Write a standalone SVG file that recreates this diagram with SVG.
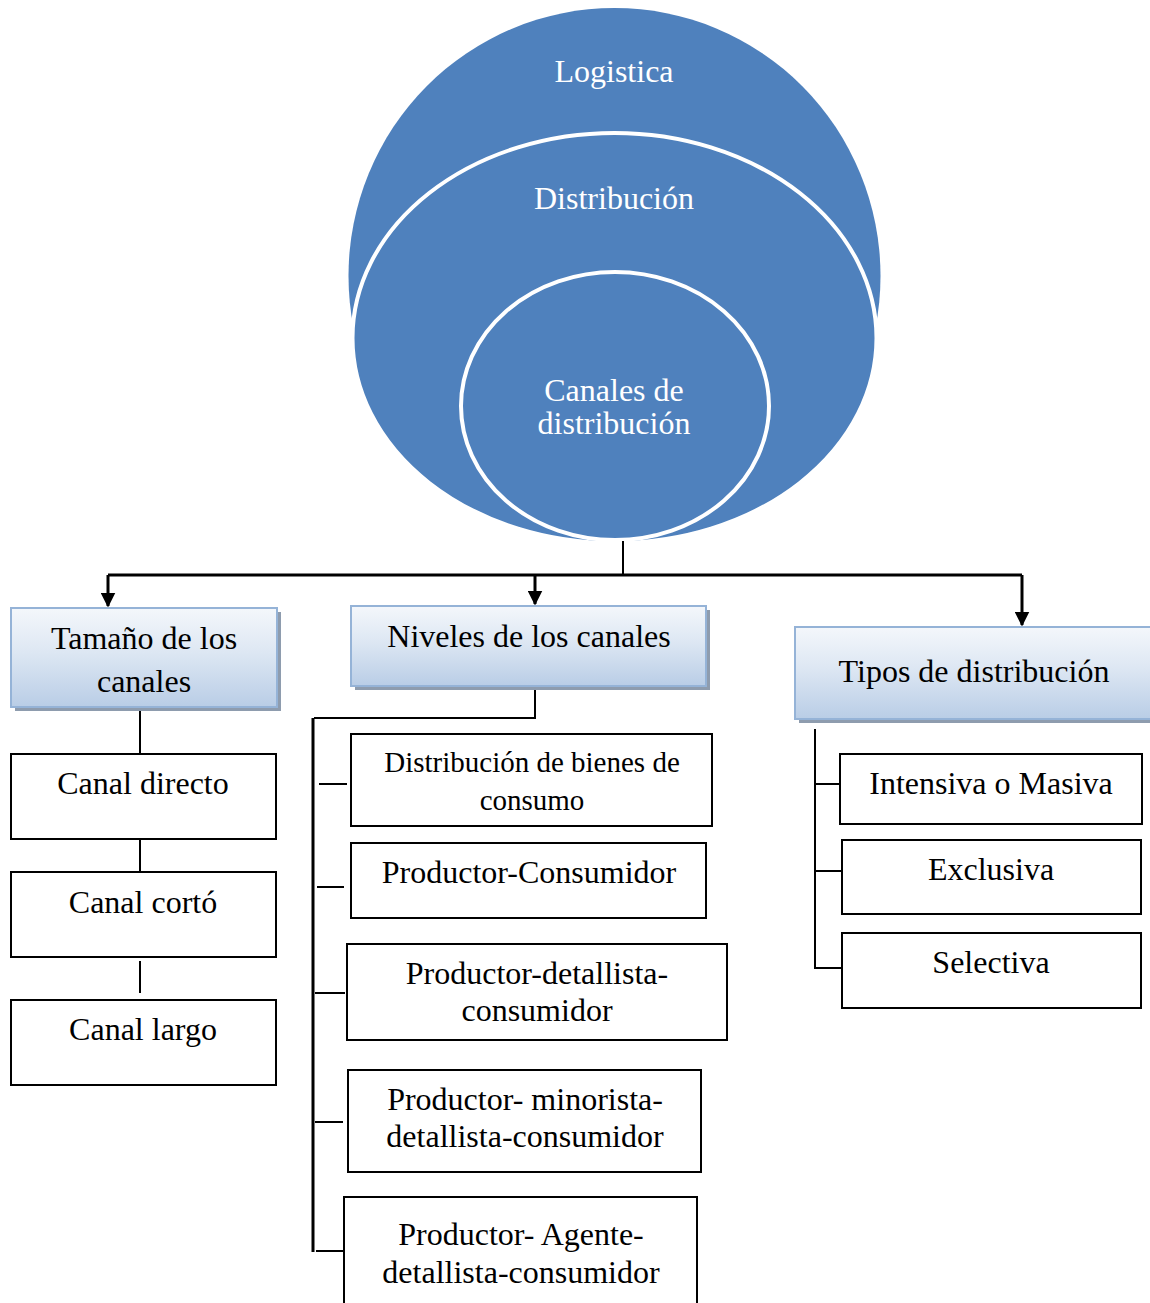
<svg xmlns="http://www.w3.org/2000/svg" width="1150" height="1303" viewBox="0 0 1150 1303">
  <defs>
    <linearGradient id="hdrFill" x1="0" y1="0" x2="0" y2="1">
      <stop offset="0" stop-color="#f4f7fb"/>
      <stop offset="0.45" stop-color="#dde7f3"/>
      <stop offset="1" stop-color="#b9cde6"/>
    </linearGradient>
    <marker id="arrow" viewBox="0 0 10 10" refX="9" refY="5" markerWidth="5" markerHeight="5" orient="auto" markerUnits="strokeWidth">
      <path d="M0,0 L10,5 L0,10 Z" fill="#000"/>
    </marker>
  </defs>
  <style>
    text { font-family: "Liberation Serif", "Times New Roman", serif; text-anchor: middle; }
    .ring-label { fill: #ffffff; font-size: 32px; }
    .label { fill: #000000; font-size: 32px; }
    .label-sm { fill: #000000; font-size: 29px; }
    .hdr { fill: url(#hdrFill); stroke: #95b3d7; stroke-width: 2; }
    .hdr-shadow { fill: #8e9cae; }
    .box { fill: #ffffff; stroke: #000000; stroke-width: 2; }
    .wire { fill: none; stroke: #000000; stroke-width: 2; }
    .trunk { fill: none; stroke: #000000; stroke-width: 3; }
  </style>

  <rect width="1150" height="1303" fill="#ffffff"/>

  <!-- nested target -->
  <g id="logistica">
    <ellipse cx="614.5" cy="276" rx="266" ry="268" fill="#4f81bd"/>
    <text class="ring-label" x="614" y="82">Logistica</text>
  </g>
  <g id="distribucion">
    <ellipse cx="614.5" cy="338" rx="262" ry="205" fill="#4f81bd" stroke="#ffffff" stroke-width="4"/>
    <text class="ring-label" x="614" y="209">Distribución</text>
  </g>
  <g id="canales-distribucion">
    <ellipse cx="615" cy="406" rx="154" ry="134" fill="#4f81bd" stroke="#ffffff" stroke-width="4"/>
    <text class="ring-label" x="614" y="401">Canales de</text>
    <text class="ring-label" x="614" y="434">distribución</text>
  </g>

  <!-- connectors -->
  <g id="connectors">
    <path class="wire" d="M623,541 V575"/>
    <path class="trunk" d="M108,575 H1022"/>
    <path class="trunk" d="M108,575 V606" marker-end="url(#arrow)"/>
    <path class="trunk" d="M535,575 V604" marker-end="url(#arrow)"/>
    <path class="trunk" d="M1022,575 V625" marker-end="url(#arrow)"/>

    <!-- left column -->
    <path class="wire" d="M140,707 V754"/>
    <path class="wire" d="M140,839 V872"/>
    <path class="wire" d="M140,961 V993"/>

    <!-- middle column -->
    <path class="wire" d="M535,686 V718 H314"/>
    <path class="trunk" d="M313,718 V1252"/>
    <path class="wire" d="M319,784 H347"/>
    <path class="wire" d="M317,887 H344"/>
    <path class="wire" d="M315,993 H345"/>
    <path class="wire" d="M315,1122 H343"/>
    <path class="wire" d="M316,1251 H345"/>

    <!-- right column -->
    <path class="wire" d="M815,729 V968 H842"/>
    <path class="wire" d="M815,784 H842"/>
    <path class="wire" d="M815,871 H842"/>
  </g>

  <!-- header boxes -->
  <g id="tamano">
    <rect class="hdr-shadow" x="15" y="612" width="266" height="99"/>
    <rect class="hdr" x="11" y="608" width="266" height="99"/>
    <text class="label" x="144" y="649">Tamaño de los</text>
    <text class="label" x="144" y="692">canales</text>
  </g>
  <g id="niveles">
    <rect class="hdr-shadow" x="355" y="610" width="355" height="80"/>
    <rect class="hdr" x="351" y="606" width="355" height="80"/>
    <text class="label" x="529" y="647">Niveles de los canales</text>
  </g>
  <g id="tipos">
    <rect class="hdr-shadow" x="799" y="631" width="355" height="92"/>
    <rect class="hdr" x="795" y="627" width="357" height="92"/>
    <text class="label" x="974" y="682">Tipos de distribución</text>
  </g>

  <!-- left column boxes -->
  <g id="canal-directo">
    <rect class="box" x="11" y="754" width="265" height="85"/>
    <text class="label" x="143" y="794">Canal directo</text>
  </g>
  <g id="canal-corto">
    <rect class="box" x="11" y="872" width="265" height="85"/>
    <text class="label" x="143" y="913">Canal cortó</text>
  </g>
  <g id="canal-largo">
    <rect class="box" x="11" y="1000" width="265" height="85"/>
    <text class="label" x="143" y="1040">Canal largo</text>
  </g>

  <!-- middle column boxes -->
  <g id="bienes-consumo">
    <rect class="box" x="351" y="734" width="361" height="92"/>
    <text class="label-sm" x="532" y="772">Distribución de bienes de</text>
    <text class="label-sm" x="532" y="810">consumo</text>
  </g>
  <g id="productor-consumidor">
    <rect class="box" x="351" y="843" width="355" height="75"/>
    <text class="label" x="529" y="883">Productor-Consumidor</text>
  </g>
  <g id="productor-detallista">
    <rect class="box" x="347" y="944" width="380" height="96"/>
    <text class="label" x="537" y="984">Productor-detallista-</text>
    <text class="label" x="537" y="1021">consumidor</text>
  </g>
  <g id="productor-minorista">
    <rect class="box" x="348" y="1070" width="353" height="102"/>
    <text class="label" x="525" y="1110">Productor- minorista-</text>
    <text class="label" x="525" y="1147">detallista-consumidor</text>
  </g>
  <g id="productor-agente">
    <rect class="box" x="344" y="1197" width="353" height="120"/>
    <text class="label" x="521" y="1245">Productor- Agente-</text>
    <text class="label" x="521" y="1283">detallista-consumidor</text>
  </g>

  <!-- right column boxes -->
  <g id="intensiva">
    <rect class="box" x="840" y="754" width="302" height="70"/>
    <text class="label" x="991" y="794">Intensiva o Masiva</text>
  </g>
  <g id="exclusiva">
    <rect class="box" x="842" y="840" width="299" height="74"/>
    <text class="label" x="991" y="880">Exclusiva</text>
  </g>
  <g id="selectiva">
    <rect class="box" x="842" y="933" width="299" height="75"/>
    <text class="label" x="991" y="973">Selectiva</text>
  </g>
</svg>
